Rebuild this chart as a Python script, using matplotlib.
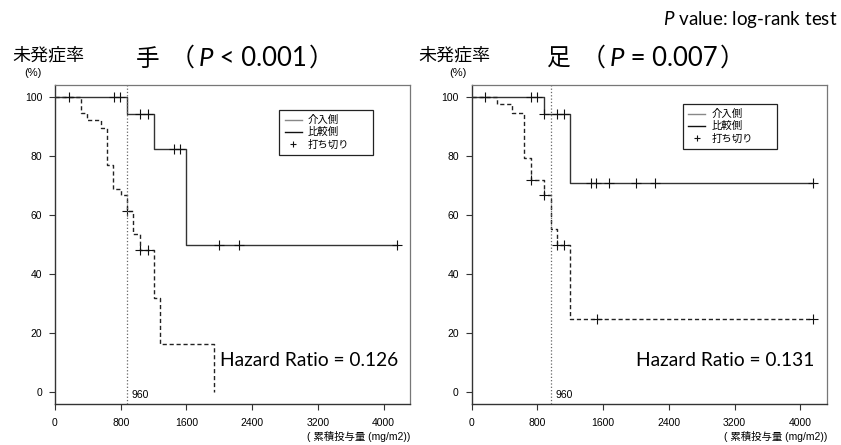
import matplotlib
matplotlib.use("Agg")
from matplotlib import pyplot as plt
from matplotlib.lines import Line2D

plt.rcParams['font.family'] = ['Liberation Sans', 'Noto Sans CJK JP', 'DejaVu Sans']
plt.rcParams['mathtext.fontset'] = 'custom'
plt.rcParams['mathtext.it'] = 'Lato:italic'
plt.rcParams['mathtext.rm'] = 'Lato'

# ---- data ----
# 手 (hand)
hand_int_t = [0, 882, 1204, 1598, 4167]
hand_int_s = [100, 94.4, 82.6, 49.9, 49.9]
hand_int_cens_t = [167, 720, 786, 1037, 1126, 1443, 1524, 2002, 2244, 4167]
hand_int_cens_s = [100, 100, 100, 94.4, 94.4, 82.6, 82.6, 49.9, 49.9, 49.9]
hand_cmp_t = [0, 317, 394, 561, 638, 711, 801, 874, 955, 1037, 1207, 1280, 1931]
hand_cmp_s = [100, 94.8, 92.2, 89.6, 76.9, 69.0, 66.8, 61.5, 53.5, 48.4, 32.1, 16.2, 0]
hand_cmp_cens_t = [874, 1037, 1126]
hand_cmp_cens_s = [61.5, 48.4, 48.4]

# 足 (foot)
foot_int_t = [0, 880, 1197, 4160]
foot_int_s = [100, 94.5, 71.0, 71.0]
foot_int_cens_t = [162, 718, 791, 880, 1042, 1124, 1449, 1514, 1676, 1997, 2236, 4160]
foot_int_cens_s = [100, 100, 100, 94.5, 94.5, 94.5, 71, 71, 71, 71, 71, 71]
foot_cmp_t = [0, 312, 487, 637, 718, 880, 962, 1035, 1197, 4160]
foot_cmp_s = [100, 97.6, 94.8, 79.6, 71.9, 66.8, 55.5, 50.1, 25.0, 25.0]
foot_cmp_cens_t = [718, 880, 1035, 1124, 1522, 4160]
foot_cmp_cens_s = [71.9, 66.8, 50.1, 50.1, 25, 25]

xticks = [0, 800, 1600, 2400, 3200, 4000]
yticks = [0, 20, 40, 60, 80, 100]
cutoff_pos = [880, 960]
cutoff_label = "960"
hazard = ["Hazard Ratio = 0.126", "Hazard Ratio = 0.131"]
title_parts = [("手", "（", "P", " < 0.001", "）"), ("足", "（", "P", " = 0.007", "）")]
legend_labels = ["介入側", "比較側", "打ち切り"]

W, H = 841, 445
fig = plt.figure(figsize=(W / 100, H / 100), dpi=100)
renderer = fig.canvas.get_renderer()


def fx(px):
    return px / W


def fy(py):
    return 1 - py / H


def pieces_centered(parts, cx, base_y):
    # title pieces side by side: CJK char, paren, italic P, latin, paren
    cjk = dict(family=['Noto Sans CJK JP'], fontsize=17)
    par = dict(family=['Noto Sans CJK JP'], fontsize=18)
    lat = dict(family=['Lato'], fontsize=18.5)
    styles = [cjk, par, dict(lat, style='italic'), lat, par]
    gaps = [10, 4, 0, 2, 0]
    texts = [fig.text(0, fy(base_y), s, va='baseline', ha='left', **st)
             for s, st in zip(parts, styles)]
    widths = [t.get_window_extent(renderer).width + g for t, g in zip(texts, gaps)]
    x = cx - sum(widths) / 2
    for t, w in zip(texts, widths):
        t.set_x(fx(x))
        x += w


panels = [
    dict(left=55, t=(hand_int_t, hand_int_s, hand_cmp_t, hand_cmp_s),
         c=(hand_int_cens_t, hand_int_cens_s, hand_cmp_cens_t, hand_cmp_cens_s),
         leg=(279.3, 109.5), title_x=235, ylab_x=12, pct_x=33),
    dict(left=471.7, t=(foot_int_t, foot_int_s, foot_cmp_t, foot_cmp_s),
         c=(foot_int_cens_t, foot_int_cens_s, foot_cmp_cens_t, foot_cmp_cens_s),
         leg=(682.7, 103.5), title_x=646, ylab_x=418, pct_x=458),
]

for i, p in enumerate(panels):
    ax = fig.add_axes([fx(p['left']), fy(404), 355.3 / W, 319 / H])
    it, is_, ct, cs = p['t']
    ax.step(it, is_, where='post', color='#333333', lw=1.0)
    ax.step(ct, cs, where='post', color='#222222', lw=1.0, ls=(0, (3, 2)))
    ict, ics, cct, ccs = p['c']
    ax.plot(ict, ics, ls='none', marker='+', ms=7, mew=0.8, color='#111111')
    ax.plot(cct, ccs, ls='none', marker='+', ms=7, mew=0.8, color='#111111')
    ax.axvline(cutoff_pos[i], color='#666666', ls=':', lw=0.9)
    ax.text(cutoff_pos[i] + 55, -0.8, cutoff_label, fontsize=7.5, va='center', ha='left')
    ax.text(0.965, 0.135, hazard[i], transform=ax.transAxes, ha='right', va='center',
            fontsize=13.8, family=['Lato', 'Noto Sans CJK JP'])

    ax.set_xlim(0, 4325)
    ax.set_ylim(-4, 104.2)
    ax.set_xticks(xticks)
    ax.set_yticks(yticks)
    ax.tick_params(labelsize=7.5, length=4.3, width=0.8, color='#333333', pad=5)
    ax.tick_params(axis='x', pad=6)
    for s in ['left', 'bottom']:
        ax.spines[s].set_color('#333333')
        ax.spines[s].set_linewidth(1.0)
    for s in ['top', 'right']:
        ax.spines[s].set_color('#777777')
        ax.spines[s].set_linewidth(0.9)

    handles = [Line2D([], [], color='#888888', lw=1.0),
               Line2D([], [], color='#111111', lw=1.0),
               Line2D([], [], ls='none', marker='+', ms=5, mew=0.8, color='#111111')]
    lx, ly = p['leg']
    x0 = (lx - p['left']) / 355.3
    y1 = (404 - ly) / 319
    leg = ax.legend(handles, legend_labels, loc='upper left',
                    bbox_to_anchor=(x0, y1 - 46 / 319, 94 / 355.3, 46 / 319),
                    mode='expand', borderaxespad=0, handlelength=1.6, handletextpad=0.6,
                    labelspacing=0.2, fancybox=False, framealpha=1, borderpad=0.55,
                    prop={'family': ['Noto Sans CJK JP'], 'size': 7.5})
    leg.get_frame().set_edgecolor('#222222')
    leg.get_frame().set_linewidth(0.9)

    fig.text(fx(p['left'] + 355.3), fy(436), "( 累積投与量 (mg/m2))", ha='right', va='center',
             fontsize=7.5, family=['Liberation Sans', 'Noto Sans CJK JP'])
    pieces_centered(title_parts[i], p['title_x'], 66)
    fig.text(fx(p['ylab_x']), fy(55), "未発症率", ha='left', va='center', fontsize=13,
             family=['Noto Sans CJK JP'])
    fig.text(fx(p['pct_x']), fy(73), "(%)", ha='center', va='center', fontsize=8)

fig.text(fx(838), fy(20), "$P$ value: log-rank test", ha='right', va='center', fontsize=13.5,
         family=['Lato', 'DejaVu Sans'])

fig.savefig("out.png", dpi=100)
